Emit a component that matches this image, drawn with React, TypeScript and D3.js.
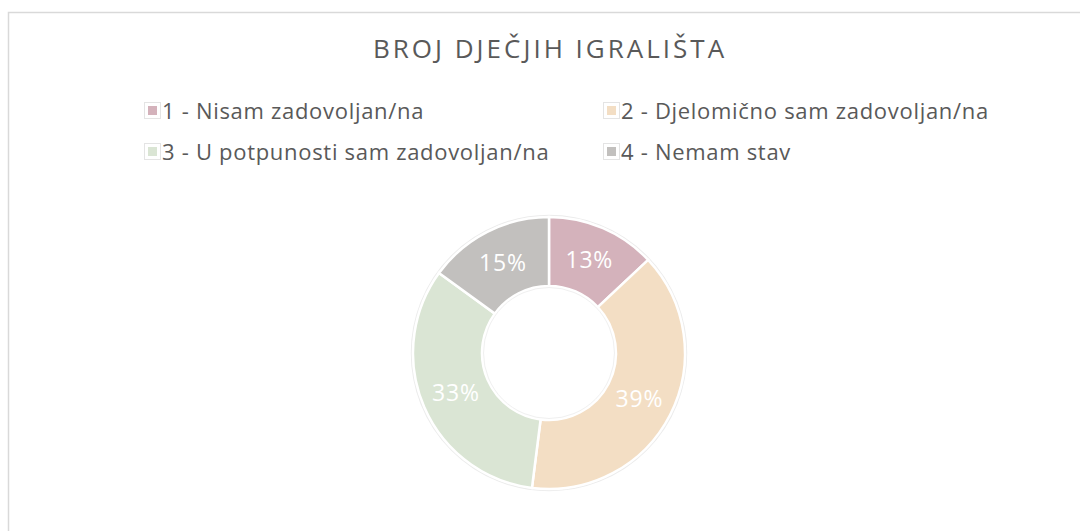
import * as d3 from "d3";

const categories = [
  "1 - Nisam zadovoljan/na",
  "2 - Djelomično sam zadovoljan/na",
  "3 - U potpunosti sam zadovoljan/na",
  "4 - Nemam stav",
];
const values = [13, 39, 33, 15];
const colors = ["#d4b2bb", "#f3dec4", "#dae5d4", "#c2c0be"];
const title = "BROJ DJEČJIH IGRALIŠTA";

export default function App() {
  const width = 1080;
  const height = 531;
  const cx = 549;
  const cy = 353;
  const outerR = 136;
  const innerR = 67;
  const font = "'Open Sans', Lato, sans-serif";

  const pie = d3.pie<number>().sort(null).value((d) => d);
  const arcs = pie(values);
  const arc = d3.arc<d3.PieArcDatum<number>>().innerRadius(innerR).outerRadius(outerR);

  // legend: 2 columns, 2 rows
  const colX = d3.scaleOrdinal<number, number>().domain([0, 1]).range([145, 604]);
  const rowY = d3.scaleOrdinal<number, number>().domain([0, 1]).range([111, 152]);

  return (
    <div style={{ position: "absolute", left: 0, top: 0 }}>
      <svg width={width} height={height} viewBox={`0 0 ${width} ${height}`} style={{ display: "block" }}>
        <rect x={0} y={0} width={width} height={height} fill="#ffffff" />
        <rect x={8.5} y={12.5} width={1200} height={700} fill="#ffffff" stroke="#d9d9d9" strokeWidth={1.5} />
        <text
          x={cx + 1}
          y={58}
          textAnchor="middle"
          fontFamily={font}
          fontSize={26}
          letterSpacing={3}
          fill="#595959"
        >
          {title}
        </text>
        {categories.map((c, i) => {
          const x = colX(i % 2);
          const y = rowY(Math.floor(i / 2));
          return (
            <g key={c}>
              <rect x={x - 0.5} y={y - 8.5} width={16} height={16} fill="#ffffff" stroke="#e4e4e4" />
              <rect x={x + 3} y={y - 5} width={9} height={9} fill={colors[i]} />
              <text x={x + 17} y={y + 8} fontFamily={font} fontSize={22} letterSpacing={0.7} fill="#595959">
                {c}
              </text>
            </g>
          );
        })}
        <g transform={`translate(${cx},${cy})`}>
          <circle r={outerR + 1.5} fill="none" stroke="#ececec" strokeWidth={1.5} />
          {arcs.map((a, i) => (
            <path key={i} d={arc(a) ?? ""} fill={colors[i]} stroke="#ffffff" strokeWidth={2.5} />
          ))}
          <circle r={innerR - 1.5} fill="none" stroke="#f0f0f0" strokeWidth={1} />
          {arcs.map((a, i) => {
            const [lx, ly] = arc.centroid(a);
            return (
              <text
                key={`l${i}`}
                x={lx}
                y={ly}
                dy="0.35em"
                textAnchor="middle"
                fontFamily={font}
                fontSize={23}
                letterSpacing={0.8}
                fill="#ffffff"
              >
                {`${values[i]}%`}
              </text>
            );
          })}
        </g>
      </svg>
    </div>
  );
}
